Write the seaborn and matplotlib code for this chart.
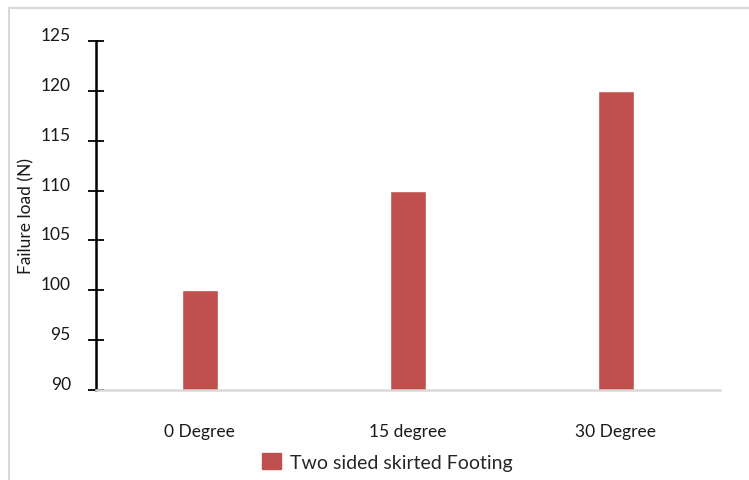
import matplotlib
matplotlib.use("Agg")
import seaborn as sns
import matplotlib.pyplot as plt
import matplotlib.patches as mpatches
from matplotlib.transforms import ScaledTranslation
import pandas as pd

# data
categories = ["0 Degree", "15 degree", "30 Degree"]
failure_load = [100, 110, 120]
series_name = "Two sided skirted Footing"
y_ticks = [90, 95, 100, 105, 110, 115, 120, 125]

bar_color = "#C0504D"
text_color = "#1a1a1a"

sns.set_theme(style="white")
plt.rcParams["font.family"] = ["Lato", "DejaVu Sans"]

df = pd.DataFrame({"angle": categories, "load": failure_load})

fig = plt.figure(figsize=(7.49, 4.81), dpi=100)
ax = fig.add_axes([0.128, 0.187, 0.833, 0.726])

sns.barplot(data=df, x="angle", y="load", color=bar_color, width=0.173,
            saturation=1, ax=ax)

ax.set_ylim(90, 125)
ax.set_yticks(y_ticks)
ax.set_yticklabels([])
ax.set_xticklabels(categories, fontsize=12.5, color=text_color)
ax.set_xlabel("")
ax.set_ylabel("Failure load (N)", fontsize=12.5, color=text_color)
ax.yaxis.set_label_coords(-0.098, 0.5)

# y labels sit a bit above their tick marks, like the Excel original
offset = ScaledTranslation(-0.25, 0.06, fig.dpi_scale_trans)
for v in y_ticks:
    ax.text(0, v, str(v), transform=ax.get_yaxis_transform() + offset,
            ha="right", va="center", fontsize=12.5, color=text_color)

ax.tick_params(axis="y", direction="inout", length=12, width=1.3,
               color="black", left=True)
ax.tick_params(axis="x", length=0, pad=24)

for side in ["top", "right"]:
    ax.spines[side].set_visible(False)
ax.spines["left"].set_color("black")
ax.spines["left"].set_linewidth(1.8)
ax.spines["bottom"].set_color("#D9D9D9")
ax.spines["bottom"].set_linewidth(1.8)

handle = mpatches.Patch(color=bar_color, label=series_name)
fig.legend(handles=[handle], loc="center", bbox_to_anchor=(0.517, 0.038),
           frameon=False, fontsize=14, handlelength=0.95, handleheight=0.95,
           handletextpad=0.45)

# outer chart border
border = mpatches.Rectangle((9 / 749, -0.1), 1.2, 1.1 - 9 / 481,
                            transform=fig.transFigure, fill=False,
                            edgecolor="#D9D9D9", linewidth=1.5)
fig.patches.append(border)

fig.savefig("out.png", dpi=100)
